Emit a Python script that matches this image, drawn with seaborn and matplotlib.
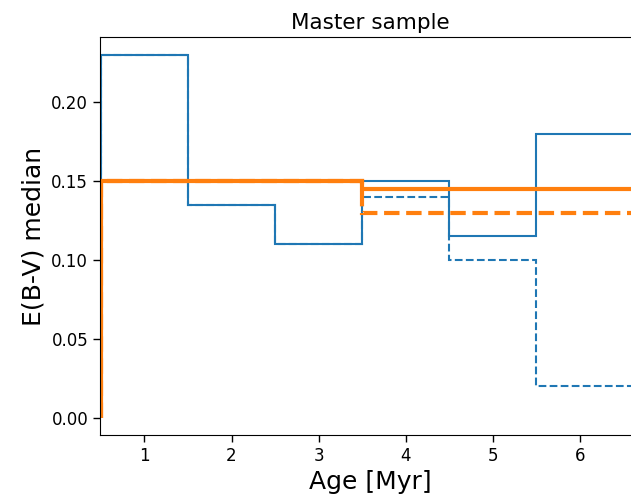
import matplotlib
matplotlib.use("Agg")
import matplotlib.pyplot as plt
import seaborn as sns
import numpy as np

sns.set_style("ticks", {"axes.edgecolor": "black", "xtick.color": "black",
                        "ytick.color": "black", "text.color": "black",
                        "axes.labelcolor": "black"})
plt.rcParams['font.family'] = ['DejaVu Sans']

# age bins [Myr], last bin is open to the right
age_edges = [0.5, 1.5, 2.5, 3.5, 4.5, 5.5, 7.0]
ebv_median = [0.23, 0.135, 0.11, 0.15, 0.115, 0.18]
ebv_median_dashed = [0.23, 0.135, 0.11, 0.14, 0.10, 0.02]

# two broad age groups
group_edges = [0.5, 3.5, 7.0]
group_median = [0.15, 0.145]
group_median_dashed = [0.15, 0.13]

colors = sns.color_palette("tab10")
blue, orange = colors[0], colors[1]

fig = plt.figure(figsize=(6.31, 5.01), dpi=100)
ax = fig.add_axes([100 / 631, 66 / 501, 540 / 631, 398 / 501])

ax.stairs(ebv_median, age_edges, color=blue, linewidth=1.5, baseline=0)
ax.stairs(ebv_median_dashed, age_edges, color=blue, linewidth=1.5,
          linestyle='--', baseline=0)
ax.stairs(group_median, group_edges, color=orange, linewidth=3, baseline=0)
ax.stairs(group_median_dashed, group_edges, color=orange, linewidth=3,
          linestyle='--', baseline=0)

ax.set_xlim(0.49, 6.69)
ax.set_ylim(-0.0108, 0.2412)
ax.set_yticks(np.arange(0, 0.21, 0.05))
ax.set_xticks([1, 2, 3, 4, 5, 6])
ax.tick_params(labelsize=12, length=5, width=1)
ax.set_xlabel('Age [Myr]', fontsize=18)
ax.set_ylabel('E(B-V) median', fontsize=18)
ax.set_title('Master sample', fontsize=15.5)

fig.savefig('out.png', dpi=100)
